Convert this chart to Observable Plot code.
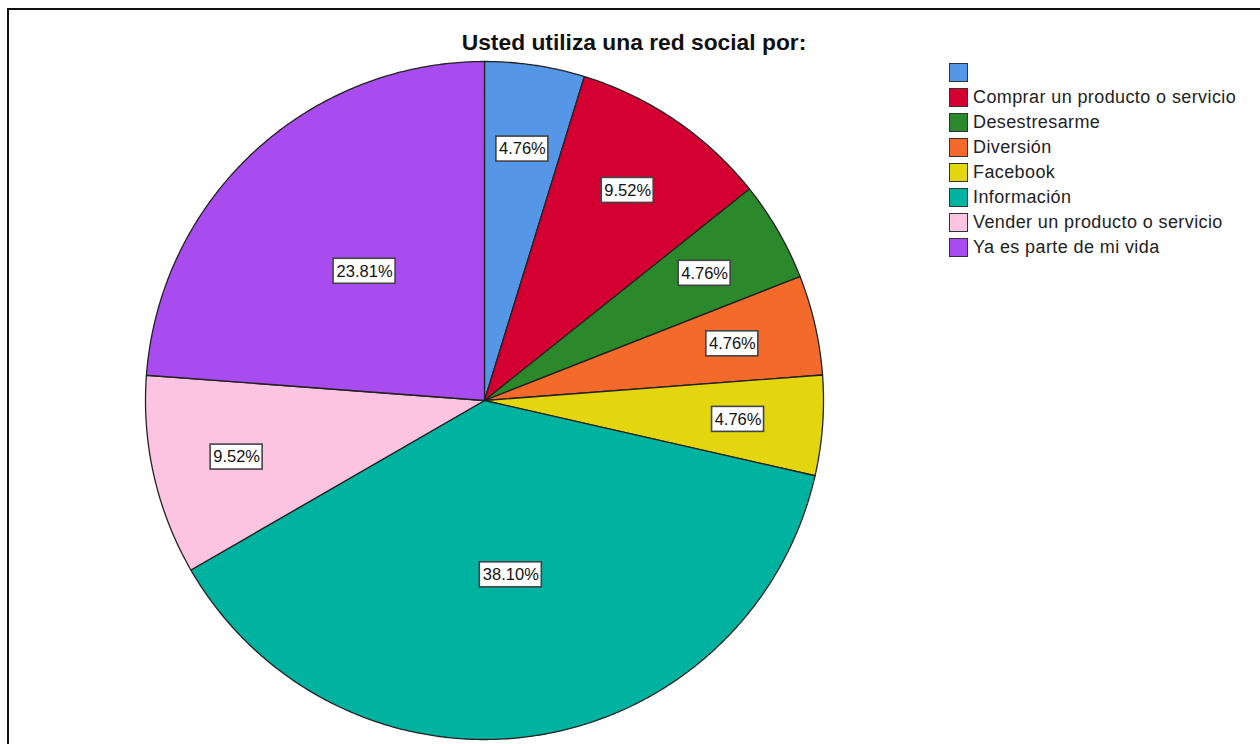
<!DOCTYPE html>
<html><head><meta charset="utf-8">
<script src="https://cdn.jsdelivr.net/npm/d3@7"></script>
<script src="https://cdn.jsdelivr.net/npm/@observablehq/plot@0.6"></script>
<style>
body{margin:0;background:#fff;font-family:"Liberation Sans",Arial,sans-serif;}
#wrap{position:relative;width:1260px;height:744px;overflow:hidden;background:#fff}
#frame{position:absolute;left:7px;top:8px;width:1300px;height:800px;border:2px solid #111;box-sizing:border-box}
#title{position:absolute;top:31px;left:0;width:1268px;text-align:center;font-weight:bold;font-size:22.8px;line-height:22px;color:#111}
#chart{position:absolute;left:0;top:0}
#legend{position:absolute;left:949px;top:60px}
.row{display:flex;align-items:center;height:25px}
.sw{width:17px;height:17px;border:1px solid #333;margin-right:5px;flex:none}
.lab{font-size:18px;color:#222;white-space:pre;letter-spacing:0.4px}
</style>
</head><body>
<div id="wrap">
  <div id="frame"></div>
  <div id="chart"></div>
  <div id="title">Usted utiliza una red social por:</div>
  <div id="legend"></div>
</div>
<script>
const categories = ["", "Comprar un producto o servicio", "Desestresarme", "Diversión", "Facebook", "Información", "Vender un producto o servicio", "Ya es parte de mi vida"];
const percents = [4.76, 9.52, 4.76, 4.76, 4.76, 38.10, 9.52, 23.81];
const colors = ["#5596e6", "#d50032", "#2b882b", "#f46a2b", "#e3d60e", "#00b2a0", "#fdc4e1", "#a94cef"];

const W = 1260, H = 744, CX = 484, CY = 400, R = 339;
const total = d3.sum(percents);

// build slice polygons (clockwise from top)
const poly = [];
const labels = [];
let acc = 0;
percents.forEach((p, i) => {
  const a0 = acc / total * 2 * Math.PI;
  acc += p;
  const a1 = acc / total * 2 * Math.PI;
  const cat = categories[i];
  poly.push({cat, x: 0, y: 0});
  const n = Math.max(2, Math.ceil((a1 - a0) / (Math.PI / 360)));
  for (let k = 0; k <= n; k++) {
    const a = a0 + (a1 - a0) * k / n;
    poly.push({cat, x: Math.sin(a), y: Math.cos(a)});
  }
  const am = (a0 + a1) / 2;
  const f = p > 20 ? 0.52 : 0.75;
  const text = p.toFixed(2) + "%";
  const w = (text.length * 10 + 2) / 2 / R, h = 12.5 / R;
  const lx = f * Math.sin(am), ly = f * Math.cos(am);
  labels.push({text, x: lx, y: ly, x1: lx - w, x2: lx + w, y1: ly - h, y2: ly + h});
});

const chart = Plot.plot({
  width: W, height: H, margin: 0,
  style: {background: "transparent", fontFamily: "'Liberation Sans', Arial, sans-serif"},
  x: {domain: [-CX / R, (W - CX) / R], axis: null},
  y: {domain: [-(H - CY) / R, CY / R], axis: null},
  color: {domain: categories, range: colors},
  marks: [
    Plot.line(poly, {x: "x", y: "y", z: "cat", fill: "cat", stroke: "#222", strokeWidth: 1.3, curve: "linear-closed"}),
    Plot.rect(labels, {x1: "x1", x2: "x2", y1: "y1", y2: "y2", fill: "white", stroke: "#444", strokeWidth: 1.6}),
    Plot.text(labels, {x: "x", y: "y", text: "text", fontSize: 16.5, fill: "#111"})
  ]
});
document.getElementById("chart").append(chart);

const leg = document.getElementById("legend");
categories.forEach((c, i) => {
  const row = document.createElement("div");
  row.className = "row";
  const sw = document.createElement("div");
  sw.className = "sw";
  sw.style.background = colors[i];
  const lab = document.createElement("span");
  lab.className = "lab";
  lab.textContent = c;
  row.append(sw, lab);
  leg.append(row);
});
</script>
</body></html>
